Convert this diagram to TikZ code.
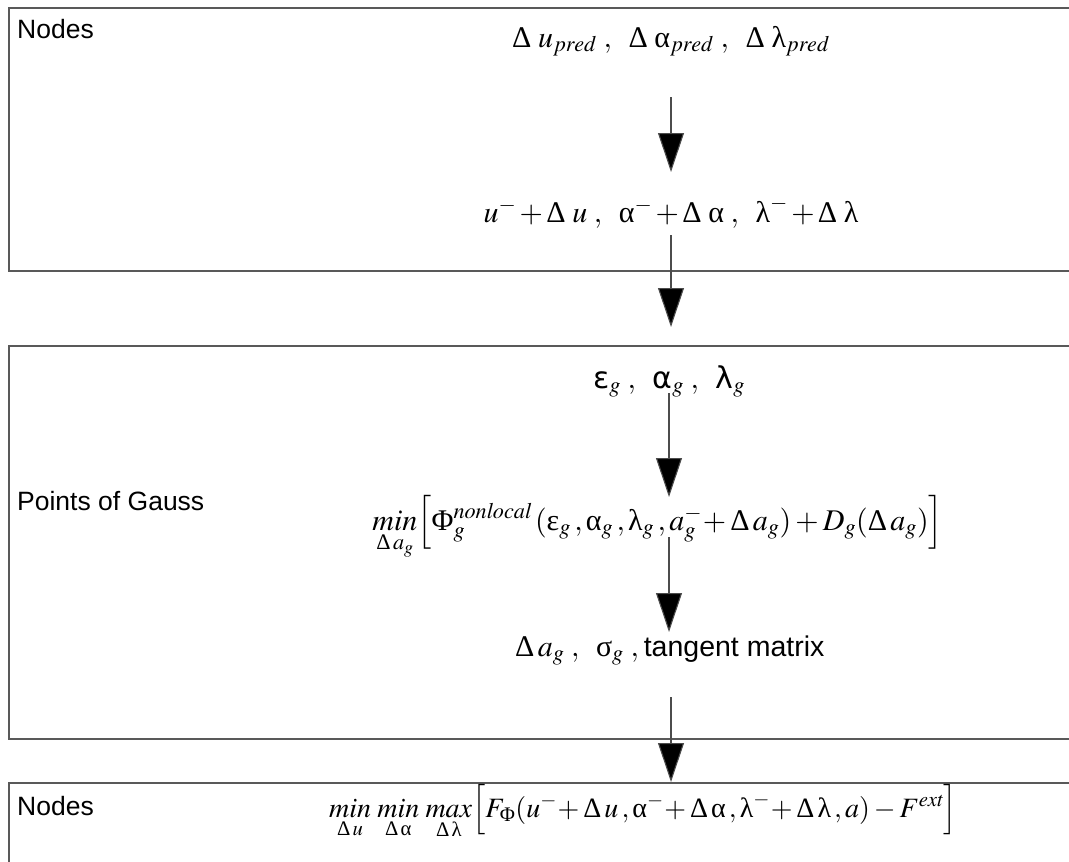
\documentclass[tikz,border=0pt]{standalone}
\usepackage{amsmath}
\usepackage{mathptmx}
\usepackage[no-math]{fontspec}
\setmainfont{Liberation Sans}
\newfontfamily\grk{Liberation Serif}
\newfontfamily\grs{DejaVu Sans}
\usetikzlibrary{arrows.meta}
\newcommand{\ga}{\text{\grk α}}
\newcommand{\gl}{\text{\grk λ}}
\newcommand{\gep}{\text{\grk ε}}
\newcommand{\gs}{\text{\grk σ}}
\newcommand{\gPhi}{\text{\grk Φ}}
\newcommand{\gD}{\text{\grk Δ}}
\newcommand{\sga}{\text{\grs α}}
\newcommand{\sgl}{\text{\grs λ}}
\newcommand{\sgep}{\text{\grs ε}}
\begin{document}
\begin{tikzpicture}[x=1pt,y=-1pt,
  box/.style={draw=black!65,line width=1.2pt},
  lab/.style={anchor=base west,inner sep=0pt,font=\fontsize{26.5}{30}\selectfont},
  eq/.style={inner sep=0pt,anchor=base,font=\fontsize{30}{34}\selectfont},
  arr/.style={draw=black!70,line width=1.1pt,-{Triangle[width=26pt,length=39pt,fill=black]}}]
\useasboundingbox (0,0) rectangle (1069,862);
\clip (0,0) rectangle (1069,862);
% boxes
\draw[box] (9,8) rectangle (1090,271);
\draw[box] (9,346) rectangle (1090,739);
\draw[box] (9,783) rectangle (1090,900);
% labels
\node[lab] (l1) at (17,38) {Nodes};
\node[lab] (l2) at (17,510) {Points of Gauss};
\node[lab] (l3) at (17,815) {Nodes};
% formulas
\node[eq] (t1) at (671,47) {$\gD\;u_{pred}\;,\;\;\gD\;\ga_{pred}\;,\;\;\gD\;\gl_{pred}$};
\node[eq] (t2) at (671,222) {$u^{-}\,{+}\,\gD\;u\;,\;\;\ga^{-}\,{+}\,\gD\;\ga\;,\;\;\gl^{-}\,{+}\,\gD\;\gl$};
\node[eq] (t3) at (669,388) {$\sgep_{g}\;,\;\;\sga_{g}\;,\;\;\sgl_{g}$};
\node[eq,anchor=base east] (t4) at (943,530) {$\underset{\gD\, a_{g}}{\mathit{min}}\Bigl[\gPhi_{g}^{\mathit{nonlocal}}\,(\gep_{g}\,,\ga_{g}\,,\gl_{g}\,,a_{g}^{-}\!+\gD\, a_{g})+D_{g}(\gD\, a_{g})\Bigr]$};
\node[eq,anchor=base west] (t5) at (515,656) {$\gD\, a_{g}\;,\;\;\gs_{g}\;,$\,{\fontsize{28.5}{32}\selectfont tangent matrix}};
\node[eq,anchor=base east,font=\fontsize{28}{32}\selectfont] (t6) at (957,817) {$\underset{\gD\, u}{\mathit{min}}\;\underset{\gD\,\ga}{\mathit{min}}\;\underset{\gD\,\gl}{\mathit{max}}\Bigl[F_{\gPhi}(u^{-}\!+\gD\, u\,,\ga^{-}\!+\gD\,\ga\,,\gl^{-}\!+\gD\,\gl\,,a)-F^{\mathit{ext}}\Bigr]$};
% arrows
\draw[arr,shorten <=50pt,shorten >=50pt] (t1.base) -- (t1.base |- t2.base);
\draw[arr,shorten <=13pt,shorten >=61pt] (t2.base) -- (t2.base |- t3.base);
\draw[arr,shorten <=5pt,shorten >=33pt] (t3.base) -- (t3.base |- t4.base);
\draw[arr,shorten <=7pt,shorten >=24pt] (t3.base |- t4.base) -- (t3.base |- t5.base);
\draw[arr,shorten <=41pt,shorten >=35pt] (t1.base |- t5.base) -- (t1.base |- t6.base);
\end{tikzpicture}
\end{document}
